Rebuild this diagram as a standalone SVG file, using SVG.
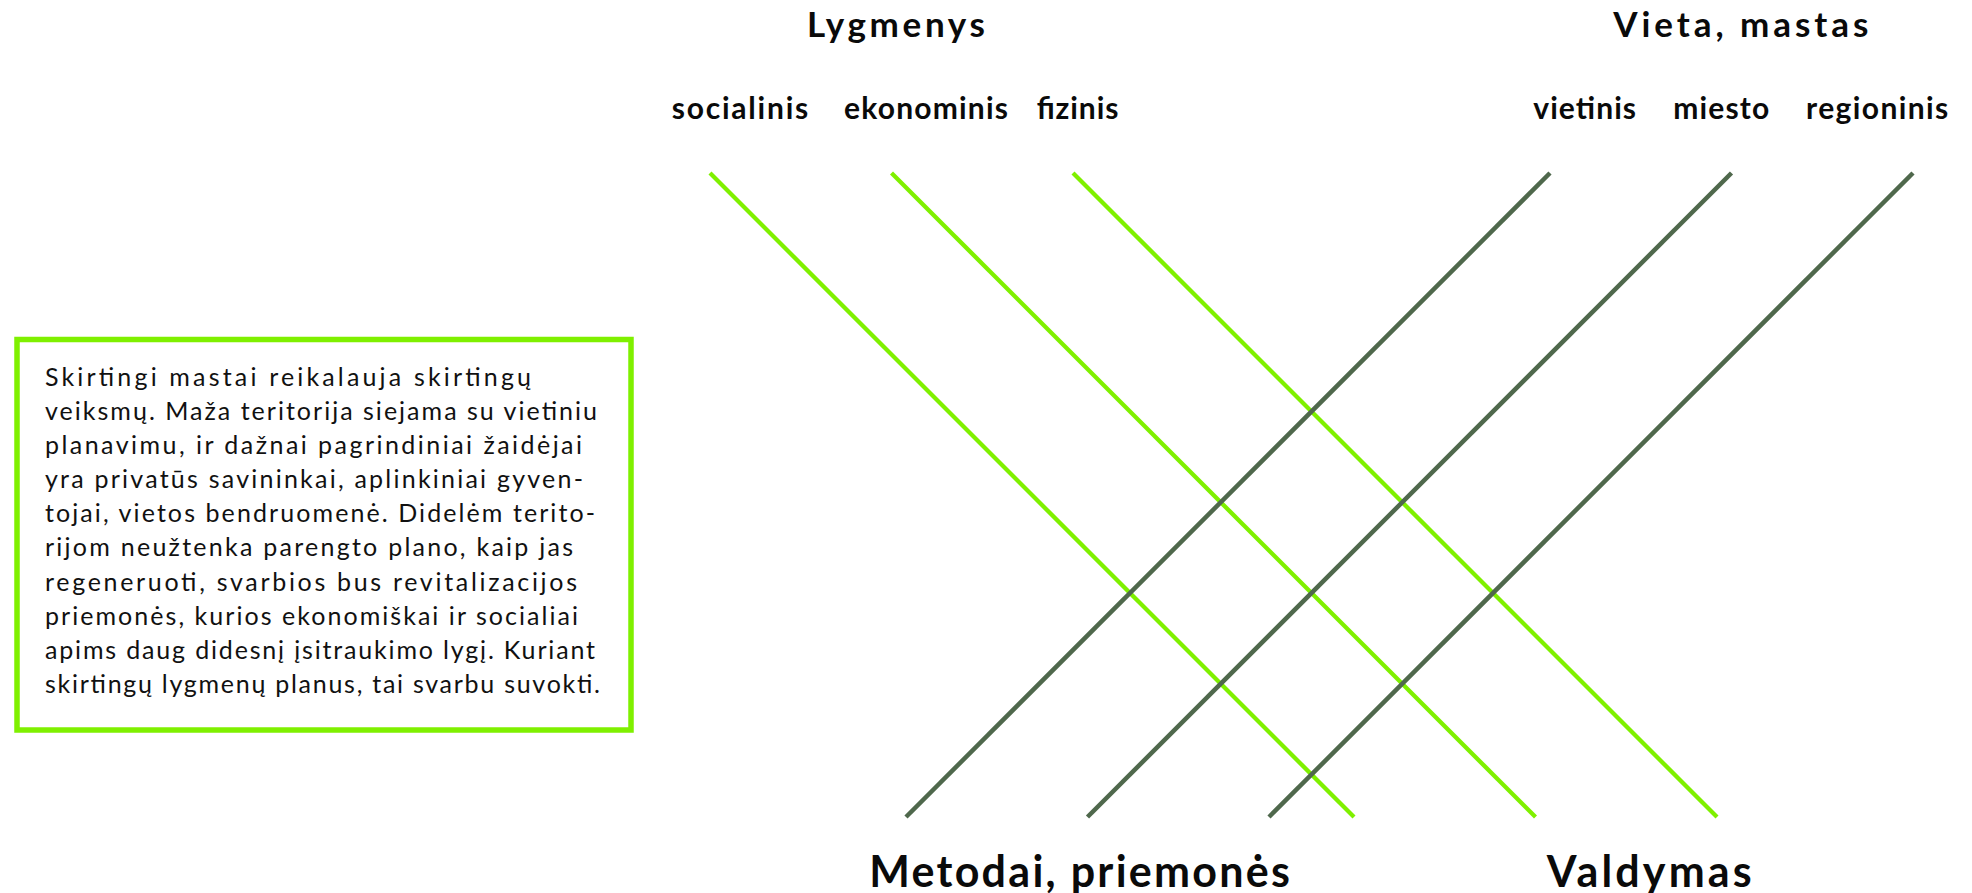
<svg xmlns="http://www.w3.org/2000/svg" width="1972" height="893" viewBox="0 0 1972 893">
<style>
.bg{fill:#ffffff}
.box{fill:#ffffff;stroke:#7ff000;stroke-width:5.5}
.body{font-family:Lato,"Noto Sans","Liberation Sans",sans-serif;font-size:25px;fill:#111111}
.head{font-family:Lato,"Noto Sans","Liberation Sans",sans-serif;font-weight:bold;font-size:35px;fill:#0a0a0a}
.big{font-family:Lato,"Noto Sans","Liberation Sans",sans-serif;font-weight:bold;font-size:43px;fill:#0a0a0a}
.sub{font-family:Lato,"Noto Sans","Liberation Sans",sans-serif;font-weight:bold;font-size:30px;fill:#0a0a0a}
.g{stroke:#7ff000;stroke-width:4.3;fill:none}
.d{stroke:#4f684c;stroke-width:4.5;fill:none}
</style>
<rect class="bg" x="0" y="0" width="1972" height="893"/>
<g id="connectors">
<line class="g" x1="710" y1="173" x2="1354" y2="817"/>
<line class="g" x1="891.5" y1="173" x2="1535.5" y2="817"/>
<line class="g" x1="1073" y1="173" x2="1717" y2="817"/>
<line class="d" x1="1550" y1="173" x2="906" y2="817"/>
<line class="d" x1="1731.5" y1="173" x2="1087.5" y2="817"/>
<line class="d" x1="1913" y1="173" x2="1269" y2="817"/>
</g>
<g id="note">
<rect class="box" x="17" y="339.5" width="614" height="390.5"/>
<text class="body" x="45" y="385.6" textLength="486">Skirtingi mastai reikalauja skirtingų</text>
<text class="body" x="45" y="419.8" textLength="552">veiksmų. Maža teritorija siejama su vietiniu</text>
<text class="body" x="45" y="453.9" textLength="537">planavimu, ir dažnai pagrindiniai žaidėjai</text>
<text class="body" x="45" y="488.1" textLength="538">yra privatūs savininkai, aplinkiniai gyven-</text>
<text class="body" x="45" y="522.2" textLength="550">tojai, vietos bendruomenė. Didelėm terito-</text>
<text class="body" x="45" y="556.4" textLength="528">rijom neužtenka parengto plano, kaip jas</text>
<text class="body" x="45" y="590.5" textLength="532">regeneruoti, svarbios bus revitalizacijos</text>
<text class="body" x="45" y="624.7" textLength="533">priemonės, kurios ekonomiškai ir socialiai</text>
<text class="body" x="45" y="658.8" textLength="550">apims daug didesnį įsitraukimo lygį. Kuriant</text>
<text class="body" x="45" y="693" textLength="555">skirtingų lygmenų planus, tai svarbu suvokti.</text>
</g>
<g id="lygmenys"><text class="head" x="807" y="36.7" textLength="178">Lygmenys</text></g>
<g id="vieta"><text class="head" x="1613.3" y="36.7" textLength="255">Vieta, mastas</text></g>
<g id="socialinis"><text class="sub" x="671.7" y="119.3" textLength="136.6">socialinis</text></g>
<g id="ekonominis"><text class="sub" x="844" y="119.3" textLength="164">ekonominis</text></g>
<g id="fizinis"><text class="sub" x="1036.7" y="119.3" textLength="81.7">fizinis</text></g>
<g id="vietinis"><text class="sub" x="1533.3" y="119.3" textLength="102.7">vietinis</text></g>
<g id="miesto"><text class="sub" x="1673.3" y="119.3" textLength="96">miesto</text></g>
<g id="regioninis"><text class="sub" x="1806" y="119.3" textLength="142.3">regioninis</text></g>
<g id="metodai"><text class="big" x="869.3" y="887.3" textLength="420.7">Metodai, priemonės</text></g>
<g id="valdymas"><text class="big" x="1546.7" y="887.3" textLength="205">Valdymas</text></g>
</svg>
